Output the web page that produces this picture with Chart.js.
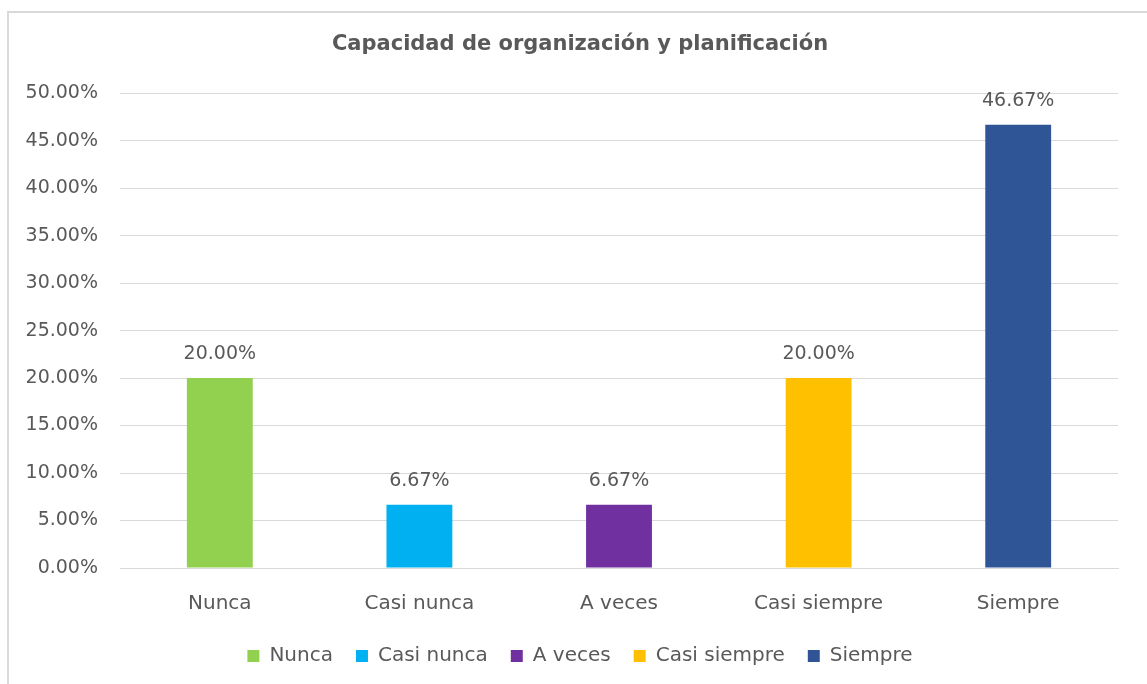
<!DOCTYPE html>
<html><head><meta charset="utf-8">
<script src="https://cdn.jsdelivr.net/npm/chart.js@4"></script>
<style>
html,body{margin:0;padding:0;background:#fff;overflow:hidden;width:1147px;height:684px;}
#frame{position:absolute;left:7px;top:11px;width:1200px;height:700px;border-left:2px solid #d9d9d9;border-top:2px solid #d9d9d9;}
#wrap{position:absolute;left:0;top:0;width:1160px;height:684px;}
</style></head><body>
<div id="frame"></div>
<div id="wrap"><canvas id="c" width="1160" height="684"></canvas></div>
<script>
const categories = ["Nunca", "Casi nunca", "A veces", "Casi siempre", "Siempre"];
const values = [20.00, 6.67, 6.67, 20.00, 46.67];
const colors = ["#92d050", "#00b0f0", "#7030a0", "#ffc000", "#2f5597"];
const yTicks = [0,5,10,15,20,25,30,35,40,45,50];
const title = "Capacidad de organización y planificación";

const FONT = "'DejaVu Sans', sans-serif";
const TXT = "#595959";

const dataLabels = {
  id: 'dataLabels',
  afterDatasetsDraw(chart) {
    const ctx = chart.ctx;
    const meta = chart.getDatasetMeta(0);
    ctx.save();
    ctx.font = "19px " + FONT;
    ctx.fillStyle = TXT;
    ctx.textAlign = 'center';
    ctx.textBaseline = 'middle';
    meta.data.forEach((bar, i) => {
      ctx.fillText(values[i].toFixed(2) + '%', bar.x, bar.y - 24);
    });
    ctx.restore();
  }
};

new Chart(document.getElementById('c'), {
  type: 'bar',
  data: {
    labels: categories,
    datasets: [{
      data: values,
      backgroundColor: colors,
      borderWidth: 0,
      categoryPercentage: 1,
      barPercentage: 0.33,
      yAxisID: 'y'
    }]
  },
  options: {
    responsive: false,
    animation: false,
    layout: { padding: { left: 0, right: 0, top: 0, bottom: 8 } },
    plugins: {
      title: {
        display: true, text: title, color: TXT,
        font: { family: FONT, size: 21, weight: 'bold' },
        padding: { top: 32, bottom: 36 }
      },
      legend: {
        position: 'bottom',
        labels: {
          color: TXT, font: { family: FONT, size: 20 },
          boxWidth: 12, boxHeight: 12, padding: 23,
          generateLabels(chart) {
            return categories.map((c, i) => ({
              text: c, fillStyle: colors[i], strokeStyle: colors[i], fontColor: TXT,
              lineWidth: 0, hidden: false, index: i
            }));
          }
        },
        onClick: null
      },
      tooltip: { enabled: false }
    },
    scales: {
      x: {
        afterFit(scale) { scale.height = 55; },
        grid: { display: false, drawTicks: false },
        border: { display: true, color: '#d9d9d9', width: 1 },
        ticks: { color: TXT, font: { family: FONT, size: 20 }, padding: 24 }
      },
      y: {
        position: 'left',
        min: 0, max: 50,
        afterFit(scale) { scale.width = 120; },
        afterBuildTicks(scale) { scale.ticks = yTicks.map(v => ({ value: v })); },
        grid: { color: '#d9d9d9', lineWidth: 1, drawTicks: false },
        border: { display: false },
        ticks: {
          color: TXT, font: { family: FONT, size: 19 }, padding: 22,
          callback: v => v.toFixed(2) + '%'
        }
      },
      y2: {
        position: 'right',
        display: true,
        afterFit(scale) { scale.width = 42; },
        grid: { display: false, drawTicks: false },
        border: { display: false },
        ticks: { display: false }
      }
    }
  },
  plugins: [dataLabels]
});
</script>
</body></html>
